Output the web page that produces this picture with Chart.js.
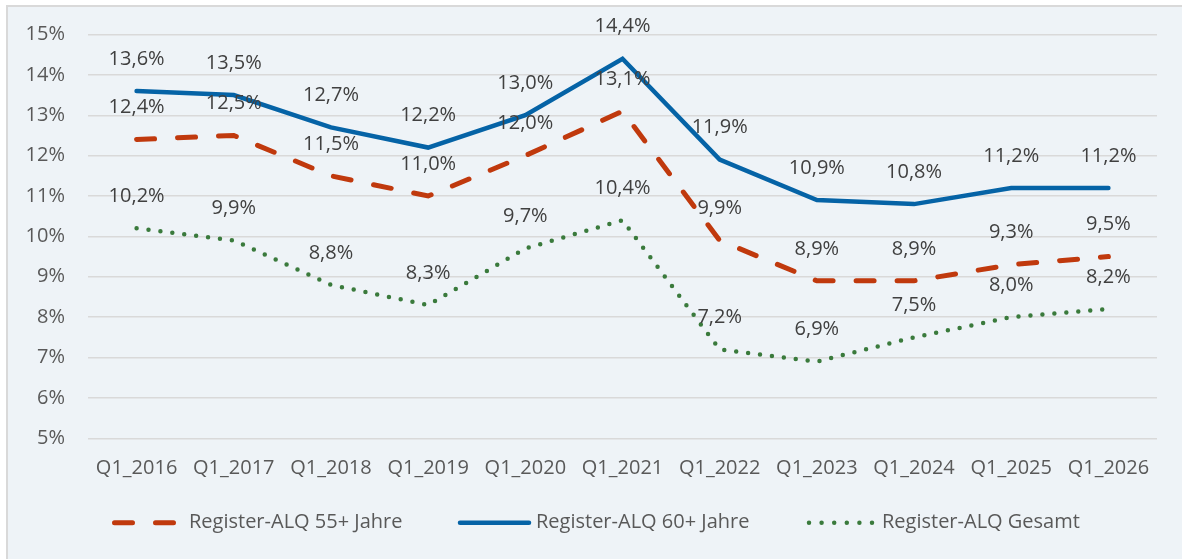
<!DOCTYPE html>
<html lang="de">
<head>
<meta charset="utf-8">
<title>Register-ALQ</title>
<script src="https://cdn.jsdelivr.net/npm/chart.js@4.4.1/dist/chart.umd.min.js"></script>
<style>
  html, body { margin: 0; padding: 0; background: #ffffff; }
  #frame {
    position: absolute; left: 6px; top: 5px; width: 1200px; height: 600px;
    background: #eef3f7; border-left: 2px solid #d9d9d9; border-top: 2px solid #d9d9d9;
  }
  #wrap { position: absolute; left: 8px; top: 7px; width: 1174px; height: 552px; }
</style>
</head>
<body>
<div id="frame"></div>
<div id="wrap"><canvas id="chart"></canvas></div>
<script>
// Daten
const quarters = ['Q1_2016', 'Q1_2017', 'Q1_2018', 'Q1_2019', 'Q1_2020', 'Q1_2021',
  'Q1_2022', 'Q1_2023', 'Q1_2024', 'Q1_2025', 'Q1_2026'];
const alq55 = [12.4, 12.5, 11.5, 11.0, 12.0, 13.1, 9.9, 8.9, 8.9, 9.3, 9.5];
const alq60 = [13.6, 13.5, 12.7, 12.2, 13.0, 14.4, 11.9, 10.9, 10.8, 11.2, 11.2];
const alqGesamt = [10.2, 9.9, 8.8, 8.3, 9.7, 10.4, 7.2, 6.9, 7.5, 8.0, 8.2];
const yTicks = { min: 5, max: 15, step: 1 };

const FONT = '"Open Sans", "Noto Sans", sans-serif';
const RED = '#c0390d';
const BLUE = '#0563a6';
const GREEN = '#3a7a3c';

const fmt = (v) => v.toFixed(1).replace('.', ',') + '%';

// Datenbeschriftungen über den Punkten
const valueLabelsPlugin = {
  id: 'valueLabels',
  afterDatasetsDraw(chart) {
    const ctx = chart.ctx;
    ctx.save();
    ctx.font = '20px ' + FONT;
    ctx.fillStyle = '#404040';
    ctx.textAlign = 'center';
    ctx.textBaseline = 'middle';
    chart.data.datasets.forEach((ds, i) => {
      chart.getDatasetMeta(i).data.forEach((pt, j) => {
        ctx.fillText(fmt(ds.data[j]), pt.x, pt.y - 32);
      });
    });
    ctx.restore();
  },
};

// Legende unten (wie im Original mit Linienmuster)
const legendPlugin = {
  id: 'bottomLegend',
  afterDraw(chart) {
    const ctx = chart.ctx;
    const y = 515.7;
    const items = [
      { text: 'Register-ALQ 55+ Jahre', color: RED, width: 5, dash: [18, 23], x1: 106.5, x2: 165.5, tx: 181 },
      { text: 'Register-ALQ 60+ Jahre', color: BLUE, width: 4.5, dash: [], x1: 452, x2: 521, tx: 528 },
      { text: 'Register-ALQ Gesamt', color: GREEN, width: 4.5, dash: [0, 12.6], x1: 801, x2: 864.5, tx: 874 },
    ];
    ctx.save();
    items.forEach((it) => {
      ctx.beginPath();
      ctx.strokeStyle = it.color;
      ctx.lineWidth = it.width;
      ctx.lineCap = 'round';
      ctx.setLineDash(it.dash);
      ctx.moveTo(it.x1, y);
      ctx.lineTo(it.x2, y);
      ctx.stroke();
      ctx.setLineDash([]);
      ctx.font = '20px ' + FONT;
      ctx.fillStyle = '#595959';
      ctx.textAlign = 'left';
      ctx.textBaseline = 'middle';
      ctx.fillText(it.text, it.tx, y);
    });
    ctx.restore();
  },
};

const ctx = document.getElementById('chart').getContext('2d');
new Chart(ctx, {
  type: 'line',
  data: {
    labels: quarters,
    datasets: [
      {
        label: 'Register-ALQ 55+ Jahre',
        data: alq55,
        borderColor: RED,
        backgroundColor: RED,
        borderWidth: 5,
        borderDash: [18, 23],
        borderCapStyle: 'round',
        pointRadius: 0,
        tension: 0,
      },
      {
        label: 'Register-ALQ 60+ Jahre',
        data: alq60,
        borderColor: BLUE,
        backgroundColor: BLUE,
        borderWidth: 4.5,
        borderCapStyle: 'round',
        pointRadius: 0,
        tension: 0,
      },
      {
        label: 'Register-ALQ Gesamt',
        data: alqGesamt,
        borderColor: GREEN,
        backgroundColor: GREEN,
        borderWidth: 4.5,
        borderDash: [0, 12],
        borderCapStyle: 'round',
        pointRadius: 0,
        tension: 0,
      },
    ],
  },
  options: {
    responsive: true,
    maintainAspectRatio: false,
    animation: false,
    layout: { padding: { top: 27.5, right: 25, bottom: 0, left: 0 } },
    plugins: {
      legend: { display: false },
      tooltip: { enabled: false },
    },
    scales: {
      x: {
        offset: true,
        grid: { display: false, drawTicks: false },
        border: { display: false },
        ticks: {
          color: '#595959',
          font: { family: FONT, size: 20 },
          padding: 18,
          maxRotation: 0,
          autoSkip: false,
        },
        afterFit: (scale) => { scale.height = 120.7; },
      },
      y: {
        min: yTicks.min,
        max: yTicks.max,
        grid: { color: '#d9d9d9', lineWidth: 1.5, drawTicks: false },
        border: { display: false },
        ticks: {
          stepSize: yTicks.step,
          color: '#595959',
          font: { family: FONT, size: 20 },
          padding: 23,
          callback: (v) => v + '%',
        },
        afterFit: (scale) => {
          scale.width = 80;
          scale.paddingTop = 0;
          scale.paddingBottom = 0;
        },
      },
    },
  },
  plugins: [valueLabelsPlugin, legendPlugin],
});
</script>
</body>
</html>
